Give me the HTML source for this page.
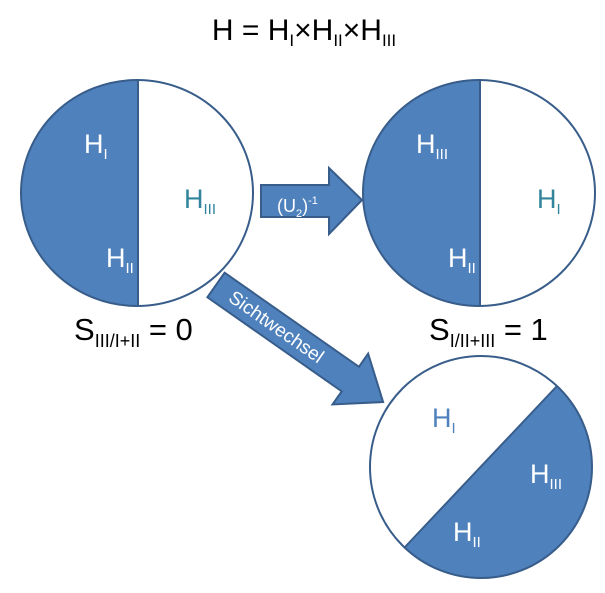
<!DOCTYPE html>
<html><head><meta charset="utf-8"><style>
html,body{margin:0;padding:0;background:#fff;}
svg{display:block;font-family:"Liberation Sans",sans-serif;}
</style></head><body>
<svg width="605" height="593" viewBox="0 0 605 593">
<defs>
<clipPath id="c1"><rect x="0" y="0" width="138" height="400"/></clipPath>
<clipPath id="c2"><rect x="300" y="0" width="180" height="400"/></clipPath>
<clipPath id="c3"><polygon points="329,628 633,306 700,700 300,700"/></clipPath>
</defs>
<text x="304" y="40" font-size="30" text-anchor="middle" fill="#000">H = H<tspan font-size="17" dy="6">I</tspan><tspan dy="-6">×H</tspan><tspan font-size="17" dy="6">II</tspan><tspan dy="-6">×H</tspan><tspan font-size="17" dy="6">III</tspan></text>

<g>
<ellipse cx="137" cy="193" rx="116" ry="113" fill="#4f81bd" clip-path="url(#c1)"/>
<ellipse cx="137" cy="193" rx="116" ry="113" fill="none" stroke="#385d8a" stroke-width="2"/>
<line x1="138" y1="80" x2="138" y2="306" stroke="#385d8a" stroke-width="2"/>
<text x="84" y="153" font-size="27" fill="#fff">H<tspan font-size="15" dy="6">I</tspan></text>
<text x="106" y="267" font-size="27" fill="#fff">H<tspan font-size="15" dy="6">II</tspan></text>
<text x="184" y="208" font-size="27" fill="#31849b">H<tspan font-size="15" dy="6">III</tspan></text>
</g>

<g>
<ellipse cx="479" cy="193" rx="116" ry="113" fill="#4f81bd" clip-path="url(#c2)"/>
<ellipse cx="479" cy="193" rx="116" ry="113" fill="none" stroke="#385d8a" stroke-width="2"/>
<line x1="480" y1="80" x2="480" y2="306" stroke="#385d8a" stroke-width="2"/>
<text x="416" y="153" font-size="27" fill="#fff">H<tspan font-size="15" dy="6">III</tspan></text>
<text x="448" y="267" font-size="27" fill="#fff">H<tspan font-size="15" dy="6">II</tspan></text>
<text x="537" y="208" font-size="27" fill="#31849b">H<tspan font-size="15" dy="6">I</tspan></text>
</g>

<g>
<circle cx="481" cy="467" r="111" fill="#4f81bd" clip-path="url(#c3)"/>
<circle cx="481" cy="467" r="111" fill="none" stroke="#385d8a" stroke-width="2"/>
<line x1="405" y1="547" x2="557" y2="386" stroke="#385d8a" stroke-width="2"/>
<text x="432" y="427" font-size="27" fill="#4f81bd">H<tspan font-size="15" dy="6">I</tspan></text>
<text x="530" y="483" font-size="27" fill="#fff">H<tspan font-size="15" dy="6">III</tspan></text>
<text x="453" y="541" font-size="27" fill="#fff">H<tspan font-size="15" dy="6">II</tspan></text>
</g>

<text x="74" y="340" font-size="31" fill="#000">S<tspan font-size="18" dy="7">III/I+II</tspan><tspan dy="-7"> = 0</tspan></text>
<text x="429" y="340" font-size="31" fill="#000">S<tspan font-size="18" dy="7">I/II+III</tspan><tspan dy="-7"> = 1</tspan></text>

<g>
<polygon points="261,185 329,185 329,168 362,200 329,234 329,217 261,217" fill="#4f81bd" stroke="#385d8a" stroke-width="2"/>
<text x="277" y="212" font-size="18" fill="#fff">(U<tspan font-size="11" dy="5">2</tspan><tspan dy="-5">)</tspan><tspan font-size="11" dy="-8">-1</tspan></text>
</g>

<g transform="translate(216,285) rotate(35)">
<polygon points="0,-15 164,-15 164,-31 204,0 164,31 164,15 0,15" fill="#4f81bd" stroke="#385d8a" stroke-width="2"/>
<text x="18" y="6" font-size="19" fill="#fff">Sichtwechsel</text>
</g>
</svg>
</body></html>
